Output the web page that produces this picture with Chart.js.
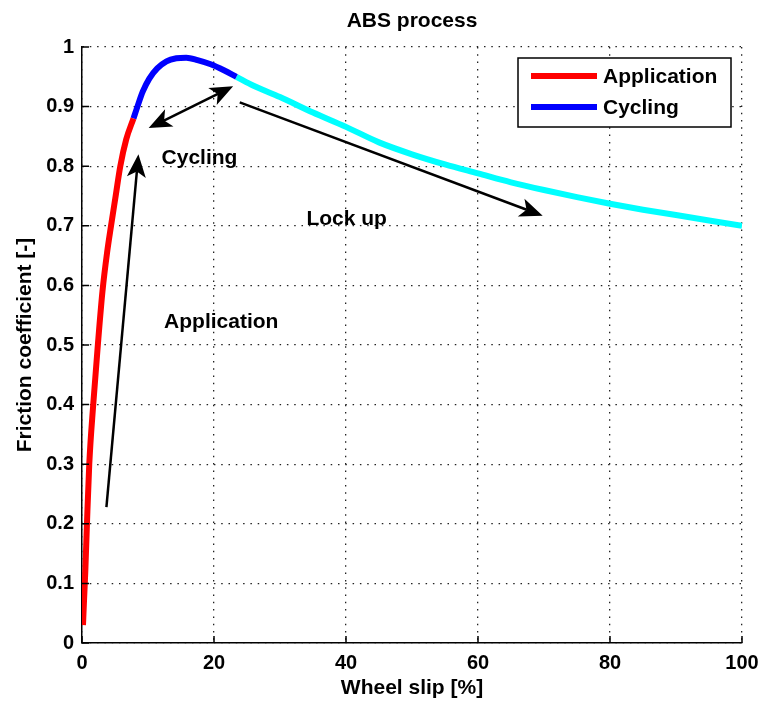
<!DOCTYPE html>
<html>
<head>
<meta charset="utf-8">
<script src="https://cdn.jsdelivr.net/npm/chart.js@4/dist/chart.umd.min.js"></script>
<style>
  html, body { margin: 0; padding: 0; background: #fff; }
  #wrap { width: 760px; height: 703px; }
</style>
</head>
<body>
<div id="wrap"><canvas id="c" width="760" height="703"></canvas></div>
<script>
// Friction coefficient vs. wheel slip, split into the three ABS phases
const applicationSlip = [0.15, 0.3, 0.5, 0.75, 1.1, 1.7, 2.4, 3.1, 3.8, 4.4, 5.1, 5.8, 6.7, 7.8];
const applicationMu   = [0.03, 0.07, 0.12, 0.20, 0.30, 0.40, 0.50, 0.59, 0.655, 0.70, 0.75, 0.80, 0.845, 0.88];

const cyclingSlip = [7.8, 8.4, 9.2, 10.2, 11.4, 12.8, 14.3, 15.8, 17.5, 19.5, 21.5, 23.4];
const cyclingMu   = [0.88, 0.90, 0.925, 0.947, 0.964, 0.976, 0.981, 0.982, 0.978, 0.971, 0.961, 0.950];

const lockupSlip = [23.4, 26, 30, 35, 40, 45, 50, 55, 60, 65, 70, 75, 80, 85, 90, 95, 100];
const lockupMu   = [0.950, 0.935, 0.916, 0.890, 0.866, 0.840, 0.820, 0.803, 0.788, 0.773, 0.760, 0.748, 0.737, 0.727, 0.718, 0.709, 0.700];

const xTicks = [0, 20, 40, 60, 80, 100];
const yTicks = [0, 0.1, 0.2, 0.3, 0.4, 0.5, 0.6, 0.7, 0.8, 0.9, 1];
const yTickLabels = ['0', '0.1', '0.2', '0.3', '0.4', '0.5', '0.6', '0.7', '0.8', '0.9', '1'];

const chartTitle = 'ABS process';

// Phase annotations in data units
const phaseLabels = [
  { text: 'Cycling',     x: 17.8, y: 0.814 },
  { text: 'Lock up',     x: 40.1, y: 0.711 },
  { text: 'Application', x: 21.1, y: 0.539 }
];
const phaseArrows = [
  { from: [3.7, 0.228],  to: [8.55, 0.82],  both: false },
  { from: [10.1, 0.864], to: [22.9, 0.934], both: true },
  { from: [23.9, 0.907], to: [69.8, 0.717], both: false }
];

const FONT = '"Liberation Sans", Arial, Helvetica, sans-serif';
const LABEL_FONT = 'bold 21px ' + FONT;

function pts(xs, ys) { return xs.map((x, i) => ({ x, y: ys[i] })); }

function arrowHead(ctx, x1, y1, x2, y2, len, half) {
  const a = Math.atan2(y2 - y1, x2 - x1);
  const c = Math.cos(a), s = Math.sin(a);
  const bx = x2 - len * c, by = y2 - len * s;
  const nx = bx + 0.25 * len * c, ny = by + 0.25 * len * s;
  ctx.beginPath();
  ctx.moveTo(x2, y2);
  ctx.lineTo(bx - half * s, by + half * c);
  ctx.lineTo(nx, ny);
  ctx.lineTo(bx + half * s, by - half * c);
  ctx.closePath();
  ctx.fill();
}

const decorations = {
  id: 'decorations',
  afterDatasetsDraw(chart) {
    const { ctx, chartArea: a, scales: { x, y } } = chart;
    ctx.save();

    // inward tick marks
    ctx.strokeStyle = '#000';
    ctx.lineWidth = 1.5;
    ctx.beginPath();
    xTicks.forEach(v => { const px = x.getPixelForValue(v); ctx.moveTo(px, a.bottom); ctx.lineTo(px, a.bottom - 7); });
    yTicks.forEach(v => { const py = y.getPixelForValue(v); ctx.moveTo(a.left, py); ctx.lineTo(a.left + 7, py); });
    ctx.stroke();

    // arrows
    ctx.fillStyle = '#000';
    ctx.strokeStyle = '#000';
    ctx.lineWidth = 2.5;
    phaseArrows.forEach(ar => {
      const x1 = x.getPixelForValue(ar.from[0]), y1 = y.getPixelForValue(ar.from[1]);
      const x2 = x.getPixelForValue(ar.to[0]),   y2 = y.getPixelForValue(ar.to[1]);
      const ang = Math.atan2(y2 - y1, x2 - x1);
      const L = 23;
      ctx.beginPath();
      ctx.moveTo(ar.both ? x1 + (L - 6) * Math.cos(ang) : x1, ar.both ? y1 + (L - 6) * Math.sin(ang) : y1);
      ctx.lineTo(x2 - (L - 6) * Math.cos(ang), y2 - (L - 6) * Math.sin(ang));
      ctx.stroke();
      arrowHead(ctx, x1, y1, x2, y2, L, 9.5);
      if (ar.both) arrowHead(ctx, x2, y2, x1, y1, L, 9.5);
    });

    // phase labels
    ctx.font = LABEL_FONT;
    ctx.textAlign = 'center';
    ctx.textBaseline = 'middle';
    phaseLabels.forEach(l => ctx.fillText(l.text, x.getPixelForValue(l.x), y.getPixelForValue(l.y)));

    // legend box
    const bw = 213, bh = 69;
    const bx = a.right - 11 - bw, by = a.top + 11;
    ctx.fillStyle = '#fff';
    ctx.fillRect(bx, by, bw, bh);
    ctx.strokeStyle = '#000';
    ctx.lineWidth = 1.5;
    ctx.strokeRect(bx, by, bw, bh);
    chart.data.datasets.slice(0, 2).forEach((ds, i) => {
      const ly = by + 18 + i * 31;
      ctx.strokeStyle = ds.borderColor;
      ctx.lineWidth = 6;
      ctx.beginPath();
      ctx.moveTo(bx + 13, ly);
      ctx.lineTo(bx + 79, ly);
      ctx.stroke();
      ctx.fillStyle = '#000';
      ctx.textAlign = 'left';
      ctx.font = LABEL_FONT;
      ctx.fillText(ds.label, bx + 85, ly + 1);
    });

    // title
    ctx.fillStyle = '#000';
    ctx.textAlign = 'center';
    ctx.font = LABEL_FONT;
    ctx.fillText(chartTitle, (a.left + a.right) / 2, 21);
    ctx.restore();
  }
};

const lineStyle = { showLine: true, pointRadius: 0, borderWidth: 6, fill: false, cubicInterpolationMode: 'monotone' };

new Chart(document.getElementById('c'), {
  type: 'scatter',
  data: {
    datasets: [
      { label: 'Application', data: pts(applicationSlip, applicationMu), borderColor: '#ff0000', ...lineStyle },
      { label: 'Cycling',     data: pts(cyclingSlip, cyclingMu),         borderColor: '#0000ff', ...lineStyle },
      { label: 'Lock up',     data: pts(lockupSlip, lockupMu),           borderColor: '#00ffff', ...lineStyle }
    ]
  },
  options: {
    responsive: false,
    animation: false,
    layout: { padding: { top: 47, right: 18, left: 0, bottom: 0 } },
    plugins: { legend: { display: false }, title: { display: false }, tooltip: { enabled: false } },
    scales: {
      x: {
        type: 'linear', min: 0, max: 100,
        afterBuildTicks: s => { s.ticks = xTicks.map(v => ({ value: v })); },
        afterFit: s => { s.height = 60; s.paddingLeft = 0; s.paddingRight = 0; },
        grid: { color: '#222', lineWidth: 1.3, drawTicks: false },
        border: { display: true, color: '#000', width: 1.5, dash: [1.5, 5.8] },
        ticks: { color: '#000', padding: 8, maxRotation: 0, font: { family: FONT, size: 20, weight: 'bold' } },
        title: { display: true, text: 'Wheel slip [%]', color: '#000', padding: { top: 0, bottom: 2 }, font: { family: FONT, size: 21, weight: 'bold' } }
      },
      y: {
        type: 'linear', min: 0, max: 1,
        afterBuildTicks: s => { s.ticks = yTicks.map(v => ({ value: v })); },
        afterFit: s => { s.width = 82; s.paddingTop = 0; s.paddingBottom = 0; },
        grid: { color: '#222', lineWidth: 1.3, drawTicks: false },
        border: { display: true, color: '#000', width: 1.5, dash: [1.5, 5.8] },
        ticks: { color: '#000', padding: 8, callback: (v, i) => yTickLabels[i], font: { family: FONT, size: 20, weight: 'bold' } },
        title: { display: true, text: 'Friction coefficient [-]', color: '#000', padding: { top: 13, bottom: 0 }, font: { family: FONT, size: 21, weight: 'bold' } }
      }
    }
  },
  plugins: [decorations]
});
</script>
</body>
</html>
